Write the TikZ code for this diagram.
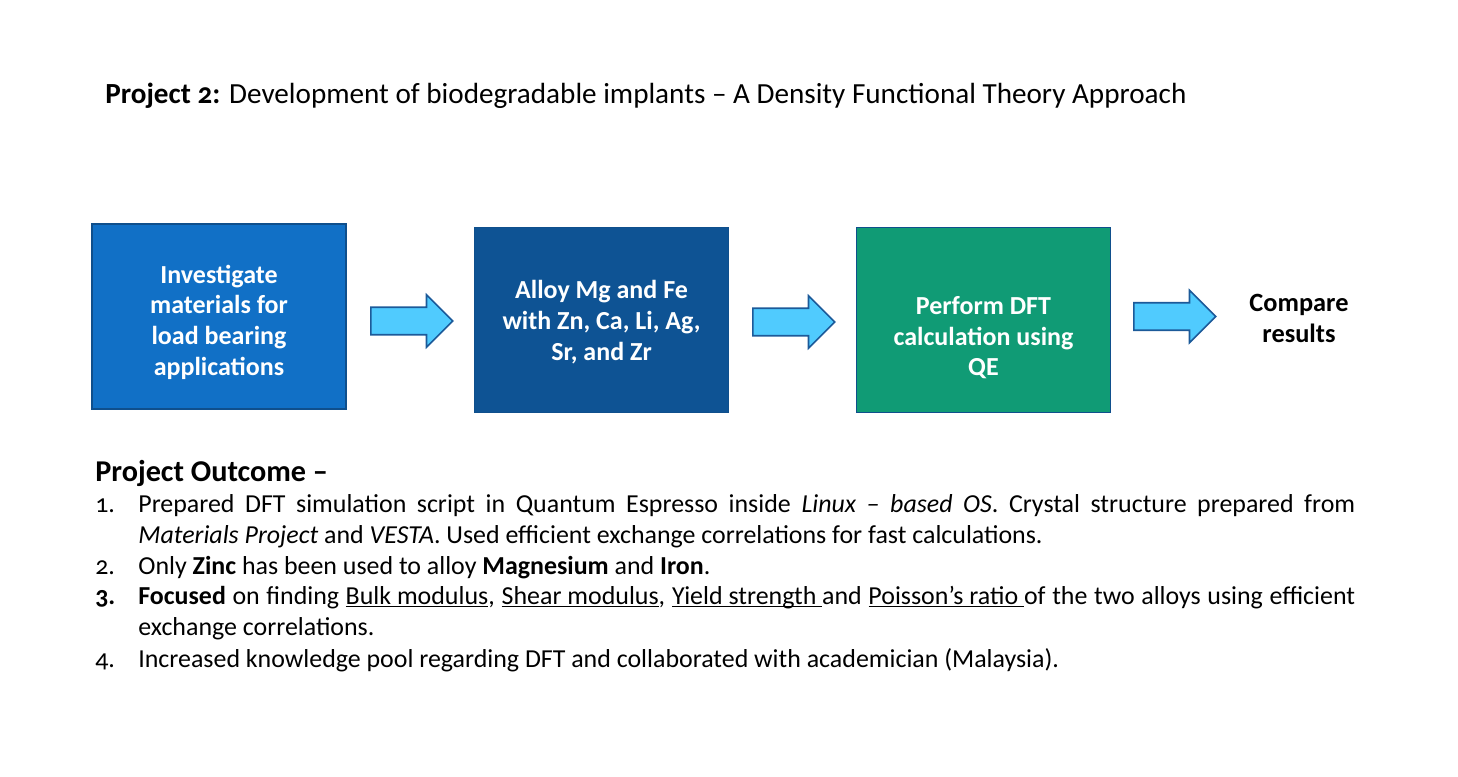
\documentclass[tikz,border=0pt]{standalone}
\usepackage{fontspec}
\setmainfont{Carlito}[Numbers=OldStyle]
\usetikzlibrary{shapes.arrows}

\definecolor{boxblue}{HTML}{1170C6}
\definecolor{boxnavy}{HTML}{0E5394}
\definecolor{boxgreen}{HTML}{109B75}
\definecolor{boxedge}{HTML}{0F4F8C}
\definecolor{arrowfill}{HTML}{50CBFE}
\definecolor{arrowedge}{HTML}{1C5A99}

\newcommand{\uln}[1]{\underline{\smash{#1}}}

\tikzset{
    stage/.style={draw=boxedge, line width=0.9pt, minimum width=5.08cm, minimum height=3.7cm,
        text=white, align=center, font=\fontsize{14.8}{17.6}\selectfont\bfseries},
    flowarrow/.style={single arrow, draw=arrowedge, fill=arrowfill, line width=0.9pt, anchor=tail,
        minimum height=1.64cm, single arrow head extend=0.25cm, inner xsep=0pt, inner ysep=0.26cm},
    outline/.style={anchor=base west, inner sep=0pt, font=\fontsize{14.75}{17}\selectfont},
}

\begin{document}
\begin{tikzpicture}[x=0.02cm, y=-0.02cm]
        \useasboundingbox (0, 0) rectangle (1458, 777);

        \node[anchor=base west, inner sep=0pt, font=\fontsize{16.6}{19}\selectfont] (title) at (105, 104)
            {\textbf{Project 2:} Development of biodegradable implants -- A Density Functional Theory Approach};

        \node[stage, fill=boxblue] (invest) at (219, 316.5) {\rule{0pt}{17pt}Investigate\\materials for\\load bearing\\applications};
        \node[stage, fill=boxnavy] (alloy) at (601.5, 320) {\rule{0pt}{12.8pt}Alloy Mg and Fe\\with Zn, Ca, Li, Ag,\\Sr, and Zr};
        \node[stage, fill=boxgreen] (dft) at (983.5, 320) {\rule{0pt}{30.4pt}Perform DFT\\calculation using\\QE};
        \node[align=center, font=\fontsize{15}{17.6}\selectfont\bfseries] (compare) at (1299, 318) {Compare\\results};

        \node[flowarrow] (arr1) at (370, 321) {};
        \node[flowarrow] (arr2) at (752, 322) {};
        \node[flowarrow] (arr3) at (1133, 316.5) {};

        \node[outline, font=\fontsize{17.2}{19}\selectfont\bfseries] (outcome) at (95, 481) {Project Outcome --};

        \node[outline] (n1) at (95, 512) {1.};
        \node[outline] (l1) at (138, 512) {\makebox[24.34cm][s]{Prepared DFT simulation script in Quantum Espresso inside \textit{Linux -- based OS}. Crystal structure prepared from}};
        \node[outline] (l2) at (138, 543) {\textit{Materials Project} and \textit{VESTA}. Used efficient exchange correlations for fast calculations.};
        \node[outline] (n2) at (95, 574) {2.};
        \node[outline] (l3) at (138, 574) {Only \textbf{Zinc} has been used to alloy \textbf{Magnesium} and \textbf{Iron}.};
        \node[outline] (n3) at (95, 604) {\textbf{3.}};
        \node[outline] (l4) at (138, 604) {\makebox[24.34cm][s]{\textbf{Focused} on finding \uln{Bulk modulus}, \uln{Shear modulus}, \uln{Yield strength\ }and \uln{Poisson’s ratio\ }of the two alloys using efficient}};
        \node[outline] (l5) at (138, 635) {exchange correlations.};
        \node[outline] (n4) at (95, 667) {4.};
        \node[outline] (l6) at (138, 667) {Increased knowledge pool regarding DFT and collaborated with academician (Malaysia).};
    \end{tikzpicture}
\end{document}
